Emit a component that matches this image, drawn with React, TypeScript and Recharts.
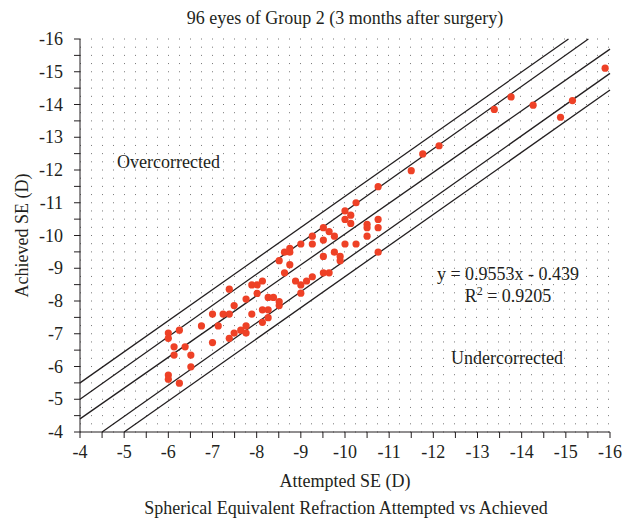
import React from "react";
import {
  ScatterChart,
  Scatter,
  XAxis,
  YAxis,
  CartesianGrid,
  ReferenceLine,
  Label,
} from "recharts";

// attempted vs achieved SE (D)
const attemptedSE = [
  -6.0, -6.0, -6.25, -6.13, -6.13, -6.38, -6.51, -6.51, -6.0, -6.0, -6.25,
  -6.75, -7.0, -7.0, -7.13, -7.24, -7.38, -7.38, -7.38, -7.49, -7.49, -7.64,
  -7.76, -7.76, -7.76, -7.89, -7.89, -8.01, -8.01, -8.13, -8.13, -8.13, -8.26,
  -8.26, -8.26, -8.38, -8.51, -8.51, -8.51, -8.63, -8.63, -8.75, -8.75, -8.75,
  -8.88, -9.0, -9.0, -9.0, -9.13, -9.26, -9.26, -9.26, -9.51, -9.51, -9.51,
  -9.51, -9.64, -9.64, -9.76, -9.76, -9.89, -9.89, -10.0, -10.0, -10.0, -10.13,
  -10.13, -10.25, -10.25, -10.75, -10.75, -10.5, -10.5, -10.75, -10.5, -10.75,
  -11.5, -11.76, -12.13, -13.38, -13.76, -14.26, -14.88, -15.15, -15.89,
];
const achievedSE = [
  -7.02, -6.86, -7.11, -6.6, -6.35, -6.6, -6.35, -5.99, -5.74, -5.61, -5.49,
  -7.24, -7.6, -6.73, -7.24, -7.6, -7.6, -8.36, -6.86, -7.86, -7.02, -7.11,
  -7.24, -7.02, -8.06, -8.49, -7.6, -8.49, -8.23, -8.61, -7.73, -7.35, -8.11,
  -7.73, -7.49, -8.11, -7.98, -7.86, -9.23, -9.49, -8.86, -9.61, -9.49, -9.11,
  -8.61, -8.49, -8.24, -9.74, -8.61, -9.98, -9.74, -8.74, -10.24, -9.86, -9.36,
  -8.86, -10.12, -8.86, -9.98, -9.49, -9.36, -9.23, -10.75, -10.49, -9.74, -10.62,
  -10.37, -11.0, -9.74, -11.49, -10.49, -10.34, -10.24, -10.24, -9.98, -9.49,
  -11.98, -12.49, -12.74, -13.85, -14.23, -13.98, -13.61, -14.12, -15.11,
];

const points = attemptedSE.map((x, i) => ({ x, y: achievedSE[i] }));

const axisTicks = [
  -4, -4.5, -5, -5.5, -6, -6.5, -7, -7.5, -8, -8.5, -9, -9.5, -10, -10.5, -11,
  -11.5, -12, -12.5, -13, -13.5, -14, -14.5, -15, -15.5, -16,
];

// the five diagonal guide lines, endpoints read where they meet the frame
const guideLines = [
  [{ x: -4, y: -5.5 }, { x: -15.06, y: -16 }],
  [{ x: -4, y: -5.0 }, { x: -15.51, y: -16 }],
  [{ x: -4, y: -4.4 }, { x: -16, y: -15.69 }],
  [{ x: -4.5, y: -4 }, { x: -16, y: -14.95 }],
  [{ x: -5, y: -4 }, { x: -16, y: -14.44 }],
];

// dotted background rows
const gridRows = Array.from({ length: 49 }, (_, i) => -4 - i * 0.25);

const FONT = "'Liberation Serif', 'Times New Roman', serif";
const INK = "#231f20";

const XTick = (props: any) => {
  const { x, y, payload } = props;
  if (!Number.isInteger(payload.value)) return <g />;
  return (
    <text x={x} y={y + 18} textAnchor="middle" fontSize={18} fontFamily={FONT} fill={INK}>
      {payload.value}
    </text>
  );
};

const YTick = (props: any) => {
  const { x, y, payload } = props;
  if (!Number.isInteger(payload.value)) return <g />;
  return (
    <text x={x - 9} y={y + 6} textAnchor="end" fontSize={18} fontFamily={FONT} fill={INK}>
      {payload.value}
    </text>
  );
};

const Dot = (props: any) => <circle cx={props.cx} cy={props.cy} r={3.6} fill="#ee4126" />;

const textStyle: React.CSSProperties = {
  position: "absolute",
  fontFamily: FONT,
  fontSize: 18,
  color: INK,
  lineHeight: "22px",
  whiteSpace: "nowrap",
};

const centred: React.CSSProperties = { ...textStyle, transform: "translateX(-50%)" };

export default function App() {
  return (
    <div
      style={{
        position: "fixed",
        left: 0,
        top: 0,
        width: 623,
        height: 522,
        background: "#fff",
      }}
    >
      <ScatterChart
        width={623}
        height={522}
        margin={{ top: 39, right: 13, bottom: 30, left: 0 }}
        style={{ position: "absolute", left: 0, top: 0 }}
      >
        <CartesianGrid
          horizontalValues={gridRows}
          vertical={false}
          stroke="#777"
          strokeDasharray="1 10"
        />
        <XAxis
          dataKey="x"
          type="number"
          domain={[-16, -4]}
          reversed
          ticks={axisTicks}
          interval={0}
          tick={<XTick />}
          tickSize={6}
          height={60}
          stroke={INK}
          allowDataOverflow
        >
          <Label
            value="Attempted SE (D)"
            position="insideBottom"
            offset={5}
            style={{ fontFamily: FONT, fontSize: 18, fill: INK }}
          />
        </XAxis>
        <XAxis
          xAxisId="top"
          orientation="top"
          type="number"
          domain={[-16, -4]}
          reversed
          ticks={axisTicks}
          interval={0}
          mirror
          height={0}
          tickSize={5}
          tickFormatter={() => ""}
          stroke={INK}
          allowDataOverflow
        />
        <YAxis
          dataKey="y"
          type="number"
          domain={[-16, -4]}
          reversed
          ticks={axisTicks}
          interval={0}
          tick={<YTick />}
          tickSize={6}
          width={80}
          stroke={INK}
          allowDataOverflow
        >
          <Label
            value="Achieved SE (D)"
            angle={-90}
            position="insideLeft"
            offset={22}
            style={{ fontFamily: FONT, fontSize: 18, fill: INK, textAnchor: "middle" }}
          />
        </YAxis>
        <YAxis
          yAxisId="right"
          orientation="right"
          type="number"
          domain={[-16, -4]}
          reversed
          ticks={axisTicks}
          interval={0}
          mirror
          width={0}
          tickSize={5}
          tickFormatter={() => ""}
          stroke={INK}
          allowDataOverflow
        />
        {guideLines.map((seg, i) => (
          <ReferenceLine key={i} segment={seg} stroke={INK} strokeWidth={1.3} ifOverflow="visible" />
        ))}
        <Scatter data={points} shape={<Dot />} isAnimationActive={false} />
      </ScatterChart>

      <div style={{ ...centred, left: 345, top: 7 }}>96 eyes of Group 2 (3 months after surgery)</div>
      <div style={{ ...textStyle, left: 117, top: 151 }}>Overcorrected</div>
      <div style={{ ...centred, left: 508, top: 263 }}>y = 0.9553x - 0.439</div>
      <div style={{ ...centred, left: 508, top: 285 }}>
        R<sup style={{ fontSize: 12, lineHeight: 0 }}>2</sup> = 0.9205
      </div>
      <div style={{ ...textStyle, left: 451, top: 347 }}>Undercorrected</div>
      <div style={{ ...centred, left: 346, top: 497 }}>
        Spherical Equivalent Refraction Attempted vs Achieved
      </div>
    </div>
  );
}
